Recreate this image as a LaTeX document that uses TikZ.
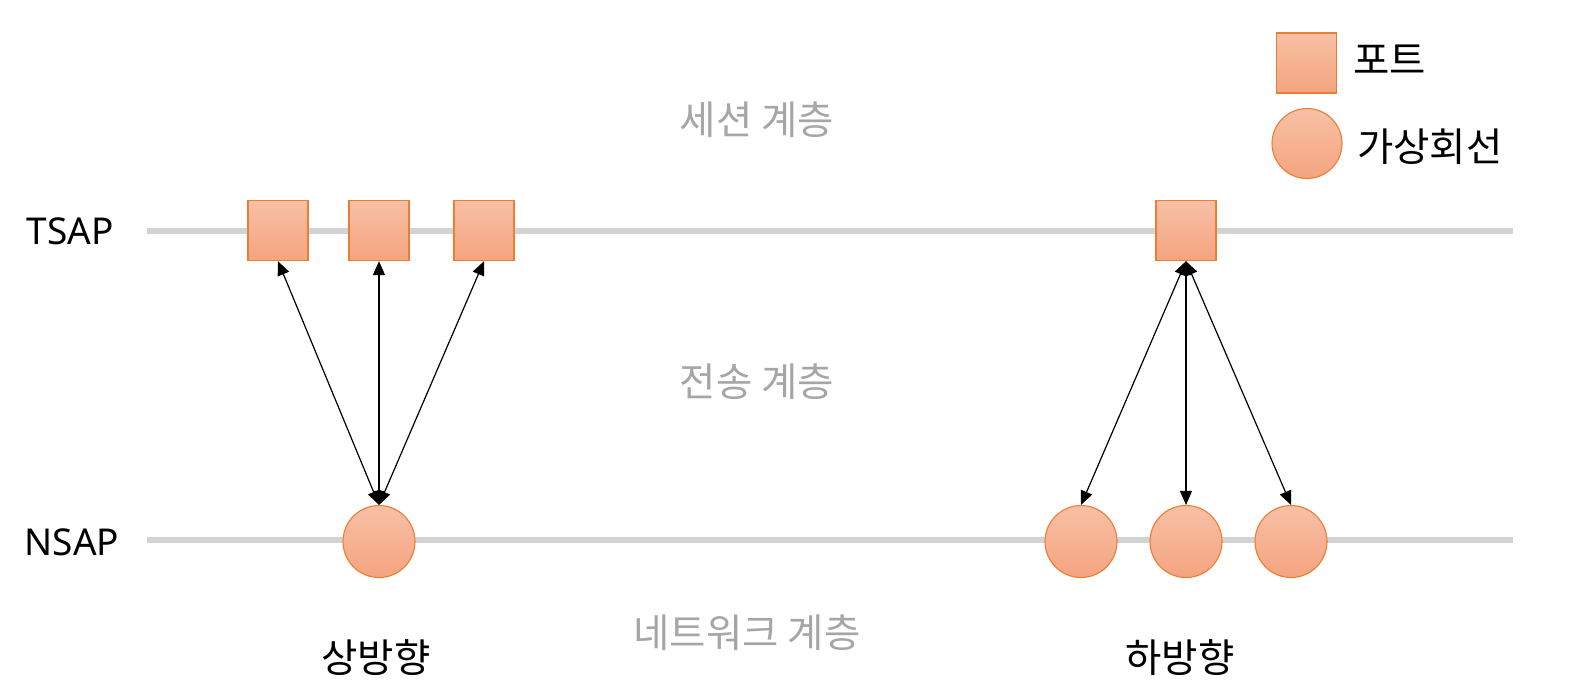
\documentclass[tikz,border=0pt]{standalone}
\usepackage{fontspec}
\setmainfont{Noto Sans CJK KR}
\newfontfamily\latinf{Noto Sans}
\usetikzlibrary{arrows.meta}
\definecolor{portfill1}{RGB}{248,192,166}
\definecolor{portfill2}{RGB}{244,164,127}
\definecolor{portline}{RGB}{237,125,49}
\definecolor{layerline}{RGB}{211,211,211}
\definecolor{layertext}{RGB}{166,166,166}
\tikzset{
  port/.style={rectangle, minimum width=60pt, minimum height=60pt, inner sep=0pt,
    draw=portline, line width=1.3pt, top color=portfill1, bottom color=portfill2},
  vc/.style={circle, minimum size=72pt, inner sep=0pt,
    draw=portline, line width=1.1pt, top color=portfill1, bottom color=portfill2},
  layer/.style={draw=layerline, line width=6pt},
  layername/.style={text=layertext, font=\fontsize{39.5}{42}\selectfont},
  sap/.style={font=\latinf\fontsize{37}{40}\selectfont},
  dirname/.style={font=\fontsize{39.5}{42}\selectfont},
  legendtext/.style={anchor=west, font=\fontsize{39.5}{42}\selectfont, inner sep=0pt},
  link/.style={line width=1.2pt, {Triangle[length=14pt,width=12pt]}-{Triangle[length=14pt,width=12pt]}}
}
\begin{document}
\begin{tikzpicture}[x=1pt,y=-1pt]
\useasboundingbox (0,0) rectangle (1584,681);
% layer lines
\coordinate (t1) at (147,231);
\coordinate (t2) at (1513,231);
\coordinate (n1) at (147,540);
\coordinate (n2) at (1513,540);
\draw[layer] (t1) -- (t2);
\draw[layer] (n1) -- (n2);
% labels
\node[sap] (tsap) at (70,231) {TSAP};
\node[sap] (nsap) at (72,542) {NSAP};
\node[layername] (session) at (757,120) {세션 계층};
\node[layername] (transport) at (757,382) {전송 계층};
\node[layername] (network) at (747,633) {네트워크 계층};
\node[dirname] (up) at (376,658) {상방향};
\node[dirname] (down) at (1180,658) {하방향};
% ports
\node[port] (p1) at (278,230.5) {};
\node[port] (p2) at (379,230.5) {};
\node[port] (p3) at (484,230.5) {};
\node[port] (p4) at (1186,230.5) {};
% virtual circuits
\node[vc] (c1) at (379,541.5) {};
\node[vc] (c2) at (1081,541.5) {};
\node[vc] (c3) at (1186,541.5) {};
\node[vc] (c4) at (1291,541.5) {};
% links
\draw[link] (c1.north) -- (p1.south);
\draw[link] (c1.north) -- (p2.south);
\draw[link] (c1.north) -- (p3.south);
\draw[link] (p4.south) -- (c2.north);
\draw[link] (p4.south) -- (c3.north);
\draw[link] (p4.south) -- (c4.north);
% legend
\node[port] (lp) at (1306.5,63) {};
\node[vc, minimum size=70pt] (lc) at (1307,143.5) {};
\node[legendtext] (lpt) at (1353,60) {포트};
\node[legendtext] (lct) at (1357,147) {가상회선};
\end{tikzpicture}
\end{document}
